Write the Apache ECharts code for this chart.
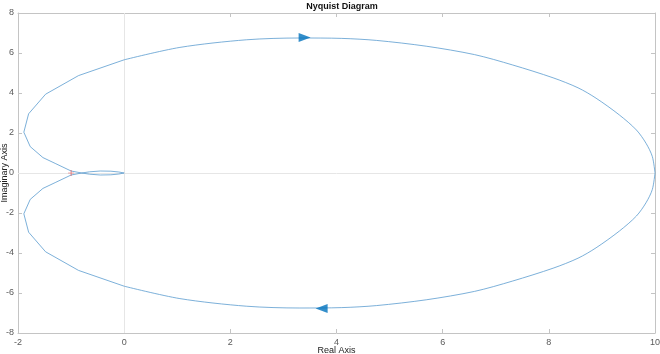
<!DOCTYPE html>
<html>
<head>
<meta charset="utf-8">
<script src="https://cdn.jsdelivr.net/npm/echarts@6/dist/echarts.min.js"></script>
<style>
  html, body { margin: 0; padding: 0; background: #fff; }
  #chart { width: 660px; height: 354px; }
</style>
</head>
<body>
<div id="chart"></div>
<script>
// upper branch (negative frequencies)
// left part: coarse samples near the origin
const upperLeftRe = [0, -0.1, -0.25, -0.45, -0.65, -0.8, -1.0, -1.3, -1.53, -1.77, -1.89, -1.8, -1.48, -0.86, 0]
const upperLeftIm = [0, -0.05, -0.09, -0.1, -0.06, 0, 0.1, 0.48, 0.77, 1.32, 2.04, 2.96, 3.94, 4.87, 5.66]
// right part: the big arc
const upperArcRe = [0, 1.05, 2.3, 3.31, 4.1, 4.75, 5.69, 6.6, 7.32, 8.08, 8.55, 8.89, 9.33, 9.65, 9.83, 9.95, 10]
const upperArcIm = [5.66, 6.28, 6.66, 6.75, 6.73, 6.63, 6.34, 5.92, 5.4, 4.76, 4.26, 3.74, 2.9, 2.15, 1.49, 0.82, 0]
// lower branch (positive frequencies)
const lowerArcRe = [10, 9.95, 9.83, 9.65, 9.33, 8.89, 8.55, 8.08, 7.32, 6.6, 5.69, 4.75, 4.1, 3.31, 2.3, 1.05, 0]
const lowerArcIm = [0, -0.82, -1.49, -2.15, -2.9, -3.74, -4.26, -4.76, -5.4, -5.92, -6.34, -6.63, -6.73, -6.75, -6.66, -6.28, -5.66]
const lowerLeftRe = [0, -0.86, -1.48, -1.8, -1.89, -1.77, -1.53, -1.3, -1.0, -0.8, -0.65, -0.45, -0.25, -0.1, 0]
const lowerLeftIm = [-5.66, -4.87, -3.94, -2.96, -2.04, -1.32, -0.77, -0.48, -0.1, 0, 0.06, 0.1, 0.09, 0.05, 0]
// direction arrows
const arrowUp = [3.4, 6.77]
const arrowDown = [3.72, -6.77]
const criticalPoint = [-1, 0]
const xTicks = [-2, 10, 2]
const yTicks = [-8, 8, 2]

const zip = (a, b) => a.map((v, i) => [v, b[i]])
const lineColor = '#5b9ccf'
const arrowColor = '#0072BD'
const axisGray = '#c4c4c4'
const labelGray = '#5a5a5a'
const font = '"Liberation Sans", Arial, sans-serif'

const boxAxis = (pos, ticks, showLabel, margin) => ({
  type: 'value',
  position: pos,
  min: ticks[0],
  max: ticks[1],
  interval: ticks[2],
  axisLine: { show: true, onZero: false, lineStyle: { color: axisGray, width: 1 } },
  axisTick: { show: true, inside: true, length: 4, lineStyle: { color: axisGray } },
  axisLabel: { show: showLabel, color: labelGray, fontSize: 9, fontFamily: font, margin: margin },
  splitLine: { show: false }
})

const curve = (re, im, smooth) => ({
  type: 'line',
  data: zip(re, im),
  showSymbol: false,
  smooth: smooth,
  lineStyle: { color: lineColor, width: 0.8 },
  z: 3
})

const chart = echarts.init(document.getElementById('chart'))
const zeroLines = curve(upperLeftRe, upperLeftIm, false)
zeroLines.markLine = {
  silent: true,
  symbol: 'none',
  label: { show: false },
  lineStyle: { color: '#e6e6e6', type: 'solid', width: 1 },
  data: [{ xAxis: 0 }, { yAxis: 0 }],
  z: 1
}
chart.setOption({
  animation: false,
  backgroundColor: '#fff',
  title: {
    text: 'Nyquist Diagram',
    left: 337,
    textAlign: 'center',
    top: -3,
    textStyle: { fontSize: 9, fontWeight: 'bold', color: '#111', fontFamily: font }
  },
  grid: { left: 18, right: 5, top: 13, bottom: 21, containLabel: false, outerBoundsMode: 'none' },
  xAxis: [
    Object.assign(boxAxis('bottom', xTicks, true, 5), {
      name: 'Real Axis', nameLocation: 'middle', nameGap: 13, nameMoveOverlap: false,
      nameTextStyle: { fontSize: 9, color: '#222', fontFamily: font }
    }),
    boxAxis('top', xTicks, false, 5)
  ],
  yAxis: [
    Object.assign(boxAxis('left', yTicks, true, 4), {
      name: 'Imaginary Axis', nameLocation: 'middle', nameGap: 9, nameMoveOverlap: false,
      nameTextStyle: { fontSize: 9, color: '#222', fontFamily: font }
    }),
    boxAxis('right', yTicks, false, 4)
  ],
  series: [
    zeroLines,
    curve(upperArcRe, upperArcIm, 0.3),
    curve(lowerArcRe, lowerArcIm, 0.3),
    curve(lowerLeftRe, lowerLeftIm, false),
    {
      type: 'scatter',
      data: [arrowUp],
      symbol: 'triangle',
      symbolSize: [9, 12],
      symbolRotate: -90,
      itemStyle: { color: arrowColor },
      z: 5
    },
    {
      type: 'scatter',
      data: [arrowDown],
      symbol: 'triangle',
      symbolSize: [9, 12],
      symbolRotate: 90,
      itemStyle: { color: arrowColor },
      z: 5
    },
    {
      type: 'scatter',
      data: [criticalPoint],
      symbol: 'path://M4,0h1v4h4v1h-4v4h-1v-4h-4v-1h4z',
      symbolSize: 6,
      itemStyle: { color: '#e03030' },
      z: 4
    }
  ]
})
</script>
</body>
</html>
